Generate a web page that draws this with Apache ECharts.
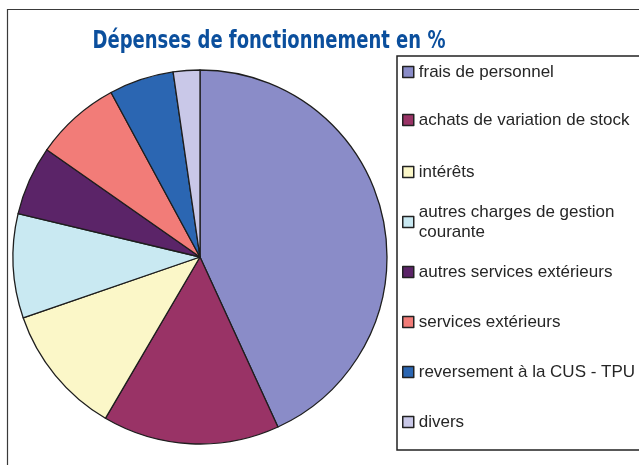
<!DOCTYPE html>
<html>
<head>
<meta charset="utf-8">
<script src="https://cdn.jsdelivr.net/npm/echarts@6/dist/echarts.min.js"></script>
<style>
  html, body { margin: 0; padding: 0; background: #fff; }
  #main { width: 639px; height: 465px; }
</style>
</head>
<body>
<div id="main"></div>
<script>
// postes de dépenses (sens horaire depuis midi)
const categories = [
    'frais de personnel',
    'achats de variation de stock',
    'intérêts',
    'autres charges de gestion courante',
    'autres services extérieurs',
    'services extérieurs',
    'reversement à la CUS - TPU',
    'divers'
];
const values = [43.2, 15.3, 11.3, 9.0, 6.0, 7.4, 5.6, 2.3];

const palette = ['#8a8cc8', '#993366', '#fbf7c8', '#c9e9f2', '#5b2468', '#f27c78', '#2b66b2', '#c9c8e8'];

// centres verticaux des lignes de légende
const legendRows = [72, 120, 172, 222, 272, 322, 372, 422];

const chart = echarts.init(document.getElementById('main'));

const legends = categories.map((name, i) => {
    const twoLines = name === 'autres charges de gestion courante';
    return {
        orient: 'vertical',
        left: 402,
        top: twoLines ? legendRows[i] - 30 : legendRows[i] - 10,
        padding: 0,
        icon: 'rect',
        itemWidth: 11,
        itemHeight: 11,
        itemGap: 0,
        selectedMode: false,
        data: [name],
        itemStyle: { borderColor: '#222', borderWidth: 1.5 },
        formatter: n => n === 'autres charges de gestion courante'
            ? 'autres charges de gestion\ncourante' : n,
        textStyle: {
            fontFamily: "'Liberation Sans', Arial, sans-serif",
            fontSize: 17,
            color: '#262626',
            lineHeight: 20,
            padding: twoLines ? [20, 0, 0, 0] : 0
        }
    };
});

const option = {
    backgroundColor: '#fff',
    color: palette,
    animation: false,
    graphic: [
        {   // cadre extérieur
            type: 'rect', silent: true, z: -1,
            shape: { x: 7.5, y: 9.5, width: 700, height: 500 },
            style: { fill: 'none', stroke: '#3a3a3a', lineWidth: 1.2 }
        },
        {   // cadre de la légende
            type: 'rect', silent: true, z: -1,
            shape: { x: 397, y: 56, width: 300, height: 394 },
            style: { fill: '#fff', stroke: '#222', lineWidth: 1.5 }
        },
        {   // titre (condensé)
            type: 'text', silent: true, z: 10,
            x: 269, y: 41.5,
            scaleX: 0.8,
            style: {
                text: 'Dépenses de fonctionnement en %',
                align: 'center',
                verticalAlign: 'middle',
                font: "bold condensed 25px 'DejaVu Sans', sans-serif",
                fill: '#0b4f9d'
            }
        }
    ],
    legend: legends,
    series: [{
        type: 'pie',
        center: [200, 257],
        radius: 187,
        startAngle: 90,
        clockwise: true,
        label: { show: false },
        labelLine: { show: false },
        emphasis: { disabled: true },
        itemStyle: { borderColor: '#1e1e1e', borderWidth: 1.3 },
        data: categories.map((name, i) => ({ name: name, value: values[i] }))
    }]
};

chart.setOption(option);
</script>
</body>
</html>
